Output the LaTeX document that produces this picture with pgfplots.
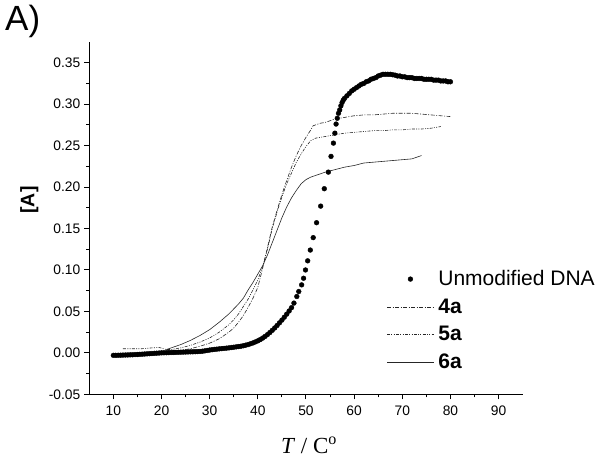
\documentclass[border=0pt]{standalone}
\usepackage{pgfplots}
\pgfplotsset{compat=1.18}
\usepackage{fontspec}
\setmainfont{Liberation Sans}
\newfontfamily\timesfont{Liberation Serif}
\newcommand\tl{\fontsize{13.8}{16}\selectfont}
\pgfplotsset{
  lineleg/.style={legend image code/.code={\draw[##1] (0cm,0cm) -- (1.65cm,0cm);}},
  dotleg/.style={legend image code/.code={\draw[##1] plot coordinates {(0.82cm,0cm)};}},
}

\pgfplotstableread{
T A
10.0 -0.0030
10.5 -0.0030
11.0 -0.0029
11.5 -0.0028
12.0 -0.0027
12.5 -0.0026
13.0 -0.0025
13.5 -0.0024
14.0 -0.0023
14.5 -0.0021
15.0 -0.0020
15.5 -0.0018
16.0 -0.0016
16.5 -0.0014
17.0 -0.0012
17.5 -0.0010
18.0 -0.0008
18.5 -0.0006
19.0 -0.0004
19.5 -0.0002
20.0 0.0000
20.5 0.0001
21.0 0.0002
21.5 0.0003
22.0 0.0004
22.5 0.0005
23.0 0.0006
23.5 0.0007
24.0 0.0008
24.5 0.0009
25.0 0.0010
25.5 0.0011
26.0 0.0012
26.5 0.0013
27.0 0.0014
27.5 0.0015
28.0 0.0017
28.5 0.0020
29.0 0.0024
29.5 0.0029
30.0 0.0034
30.5 0.0038
31.0 0.0042
31.5 0.0045
32.0 0.0048
32.5 0.0051
33.0 0.0054
33.5 0.0057
34.0 0.0060
34.5 0.0064
35.0 0.0068
35.5 0.0072
36.0 0.0076
36.5 0.0080
37.0 0.0086
37.5 0.0093
38.0 0.0100
38.5 0.0110
39.0 0.0120
39.5 0.0132
40.0 0.0145
40.5 0.0160
41.0 0.0178
41.5 0.0198
42.0 0.0220
42.5 0.0245
43.0 0.0272
43.5 0.0300
44.0 0.0330
44.5 0.0362
45.0 0.0395
45.5 0.0430
46.0 0.0467
46.5 0.0505
47.0 0.0545
47.5 0.0600
48.1 0.0680
48.5 0.0740
49.1 0.0820
49.5 0.0900
49.9 0.1000
50.35 0.1110
50.9 0.1240
51.5 0.1390
52.2 0.1570
53.05 0.1770
53.8 0.1980
54.65 0.2180
55.2 0.2370
55.7 0.2530
56.0 0.2650
56.25 0.2760
56.5 0.2830
56.75 0.2890
57.0 0.2930
57.25 0.2980
57.5 0.3020
57.75 0.3050
58.0 0.3070
58.5 0.3100
59.0 0.3130
59.5 0.3160
60.0 0.3180
60.5 0.3200
61.0 0.3220
61.5 0.3240
62.0 0.3250
62.5 0.3270
63.0 0.3280
63.5 0.3300
64.0 0.3310
64.5 0.3320
65.0 0.3340
65.5 0.3350
66.0 0.3360
66.5 0.3360
67.0 0.3360
67.5 0.3360
68.0 0.3355
68.5 0.3350
69.0 0.3340
69.5 0.3340
70.0 0.3330
70.5 0.3330
71.0 0.3320
71.5 0.3320
72.0 0.3320
72.5 0.3310
73.0 0.3310
73.5 0.3310
74.0 0.3310
74.5 0.3300
75.0 0.3300
75.5 0.3300
76.0 0.3300
76.5 0.3290
77.0 0.3290
77.5 0.3290
78.0 0.3280
78.5 0.3280
79.0 0.3280
79.5 0.3270
80.0 0.3270
}\dnatable

\pgfplotstableread{
T A
20 0.001
22 0.002
24 0.003
26 0.005
28 0.008
30 0.0117
32 0.017
34 0.025
35 0.030
36 0.037
37 0.045
38 0.055
39 0.066
40 0.079
41 0.102
42 0.127
43 0.152
44 0.172
45 0.191
46 0.208
47 0.224
48 0.238
49 0.250
50 0.260
51 0.269
51.5 0.274
52 0.275
53 0.277
54 0.278
56 0.282
58 0.284
60 0.286
62 0.287
64 0.287
66 0.288
68 0.289
70 0.289
72 0.289
74 0.288
76 0.287
78 0.286
80 0.285
}\fouratable

\pgfplotstableread{
T A
12 0.005
14 0.005
16 0.005
18 0.006
19.5 0.0065
21 0.004
22 0.004
24 0.006
26 0.009
28 0.013
30 0.018
32 0.025
34 0.034
35 0.040
36 0.047
37 0.056
38 0.065
39 0.076
40 0.088
41 0.104
42 0.125
43 0.150
44 0.170
45 0.188
46 0.204
47 0.217
48 0.230
49 0.240
50 0.249
51 0.256
52 0.259
54 0.261
56 0.263
58 0.265
60 0.266
62 0.267
64 0.268
66 0.268
68 0.269
70 0.269
72 0.270
74 0.270
76 0.271
78 0.273
}\fiveatable

\pgfplotstableread{
T A
21 0.004
22 0.006
24 0.010
26 0.015
28 0.021
30 0.028
32 0.037
34 0.047
35 0.053
36 0.059
37 0.066
38 0.076
39 0.085
40 0.095
41 0.105
42 0.118
43 0.133
44 0.148
45 0.163
46 0.176
47 0.187
48 0.196
49 0.204
50 0.209
51 0.212
52 0.214
54 0.218
56 0.221
58 0.224
60 0.226
62 0.229
64 0.230
66 0.231
68 0.232
70 0.233
72 0.234
73 0.236
74 0.238
}\sixatable

\begin{document}
\begin{tikzpicture}
\begin{axis}[
  scale only axis,
  width=433.4pt, height=352.3pt,
  xmin=5, xmax=95, ymin=-0.05, ymax=0.375,
  axis lines=left,
  axis line style={-, line width=1pt, black},
  x axis line style={-}, y axis line style={-},
  tick align=outside,
  tick style={line width=1pt, black},
  major tick length=5pt, minor tick length=3pt,
  xtick={10,20,30,40,50,60,70,80,90},
  xticklabels={{\tl 10},{\tl 20},{\tl 30},{\tl 40},{\tl 50},{\tl 60},{\tl 70},{\tl 80},{\tl 90}},
  minor x tick num=1,
  ytick={-0.05,0,0.05,0.1,0.15,0.2,0.25,0.3,0.35},
  yticklabels={{\tl -0.05},{\tl 0.00},{\tl 0.05},{\tl 0.10},{\tl 0.15},{\tl 0.20},{\tl 0.25},{\tl 0.30},{\tl 0.35}},
  minor y tick num=1,
  scaled y ticks=false,
  tick label style={font=\tl},
  xticklabel style={yshift=-3pt},
  yticklabel style={xshift=-0.5pt},
  xlabel={\timesfont\textit{T} / C\textsuperscript{o}},
  xlabel style={at={(axis description cs:0.507,-0.144)}, anchor=center, font=\fontsize{23}{26}\selectfont},
  ylabel={\textbf{[A]}},
  ylabel style={at={(axis description cs:-0.1385,0.5515)}, anchor=center, font=\fontsize{19.5}{22}\selectfont},
  clip=false,
  legend cell align=left,
  legend style={at={(axis description cs:0.686,0.357)}, anchor=north west, draw=none, fill=none,
    font=\fontsize{21}{24}\selectfont, row sep=7.5pt, inner sep=0pt,
    nodes={inner xsep=4pt}},
]
\addplot[only marks, mark=*, mark size=2.4pt, black, dotleg] table[x=T,y=A] {\dnatable};
\addlegendentry{Unmodified DNA}
\addplot[black!85, line width=0.6pt, dash pattern=on 4pt off 1.5pt on 1pt off 1.5pt, lineleg] table[x=T,y=A] {\fouratable};
\addlegendentry{\textbf{4a}}
\addplot[black!85, line width=0.6pt, dash pattern=on 3pt off 1.3pt on 1pt off 1.3pt on 1pt off 1.3pt, lineleg] table[x=T,y=A] {\fiveatable};
\addlegendentry{\textbf{5a}}
\addplot[black!85, line width=0.6pt, lineleg] table[x=T,y=A] {\sixatable};
\addlegendentry{\textbf{6a}}
\node[anchor=north west, inner sep=0pt, font=\fontsize{35}{38}\selectfont] at (rel axis cs:-0.1945,1.1045) {A)};
\path (rel axis cs:-0.206,-0.1837) rectangle (rel axis cs:1.1876,1.1192);
\end{axis}
\end{tikzpicture}
\end{document}
